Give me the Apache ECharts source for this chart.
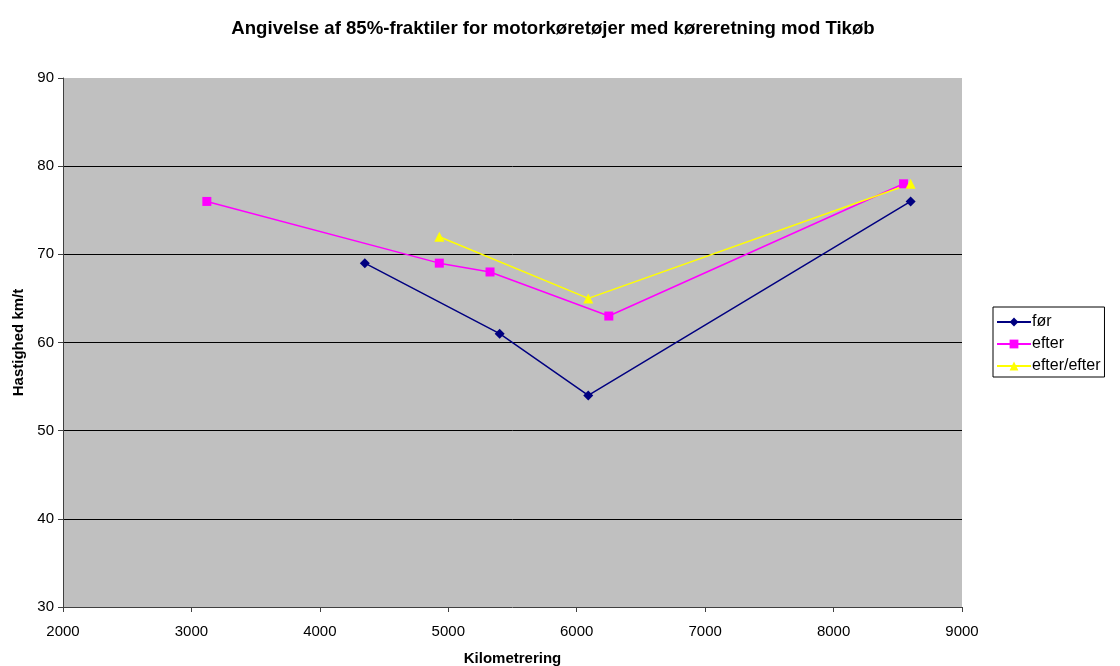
<!DOCTYPE html>
<html><head><meta charset="utf-8">
<script src="https://cdn.jsdelivr.net/npm/echarts@6/dist/echarts.min.js"></script>
<style>html,body{margin:0;padding:0;background:#fff}#c{width:1120px;height:666px}</style>
</head><body><div id="c"></div>
<script>
const titleText = 'Angivelse af 85%-fraktiler for motorkøretøjer med køreretning mod Tikøb';
const xName = 'Kilometrering';
const yName = 'Hastighed km/t';
const forX = [4350, 5400, 6090, 8600];
const forY = [69, 61, 54, 76];
const efterX = [3120, 4930, 5325, 6250, 8545];
const efterY = [76, 69, 68, 63, 78];
const efterEfterX = [4930, 6090, 8600];
const efterEfterY = [72, 65, 78];
const pairs = (xs, ys) => xs.map((x, i) => [x, ys[i]]);
const font = 'Liberation Sans, Arial, sans-serif';
const chart = echarts.init(document.getElementById('c'), null, {renderer: 'canvas'});
chart.setOption({
  backgroundColor: '#fff',
  animation: false,
  title: {text: titleText, left: 548, top: 14, textAlign: 'center',
    textStyle: {fontFamily: font, fontSize: 18.6, fontWeight: 'bold', color: '#000'}},
  grid: {left: 63, right: 158, top: 78, bottom: 59, show: true, backgroundColor: '#c0c0c0', borderWidth: 0,
    outerBoundsMode: 'none', containLabel: false},
  legend: {orient: 'vertical', left: 993, top: 307, width: 111,
    backgroundColor: '#fff', borderColor: '#000', borderWidth: 1, padding: [7, 4, 3, 3],
    itemGap: 6, itemWidth: 34, itemHeight: 11,
    textStyle: {fontFamily: font, fontSize: 16, color: '#000', padding: [0, 0, 0, -4]},
    data: ['før', 'efter', 'efter/efter']},
  xAxis: {type: 'value', min: 2000, max: 9000, interval: 1000,
    name: xName, nameLocation: 'middle', nameGap: 44,
    nameTextStyle: {fontFamily: font, fontSize: 15, fontWeight: 'bold', color: '#000'},
    axisLine: {lineStyle: {color: '#404040', width: 1}},
    axisTick: {show: true, length: 5, lineStyle: {color: '#404040'}},
    axisLabel: {fontFamily: font, fontSize: 15, color: '#000', margin: 17,
      formatter: v => String(v)},
    splitLine: {show: false}},
  yAxis: {type: 'value', min: 30, max: 90, interval: 10,
    name: yName, nameLocation: 'middle', nameGap: 37, nameRotate: 90,
    nameTextStyle: {fontFamily: font, fontSize: 15, fontWeight: 'bold', color: '#000'},
    axisLine: {show: true, lineStyle: {color: '#404040', width: 1}},
    axisTick: {show: true, length: 5, lineStyle: {color: '#404040'}},
    axisLabel: {fontFamily: font, fontSize: 15, color: '#000', margin: 9},
    splitLine: {show: true, showMaxLine: false, showMinLine: false, lineStyle: {color: '#000', width: 1}}},
  series: [
    {name: 'før', type: 'line', data: pairs(forX, forY), symbol: 'diamond', symbolSize: 10,
      color: '#000080', lineStyle: {width: 1.5, color: '#000080'}, itemStyle: {color: '#000080'}},
    {name: 'efter', type: 'line', data: pairs(efterX, efterY), symbol: 'rect', symbolSize: 9,
      color: '#ff00ff', lineStyle: {width: 1.5, color: '#ff00ff'}, itemStyle: {color: '#ff00ff'}},
    {name: 'efter/efter', type: 'line', data: pairs(efterEfterX, efterEfterY), symbol: 'triangle', symbolSize: 10,
      color: '#ffff00', lineStyle: {width: 1.5, color: '#ffff00'}, itemStyle: {color: '#ffff00'}}
  ]
});
</script></body></html>
